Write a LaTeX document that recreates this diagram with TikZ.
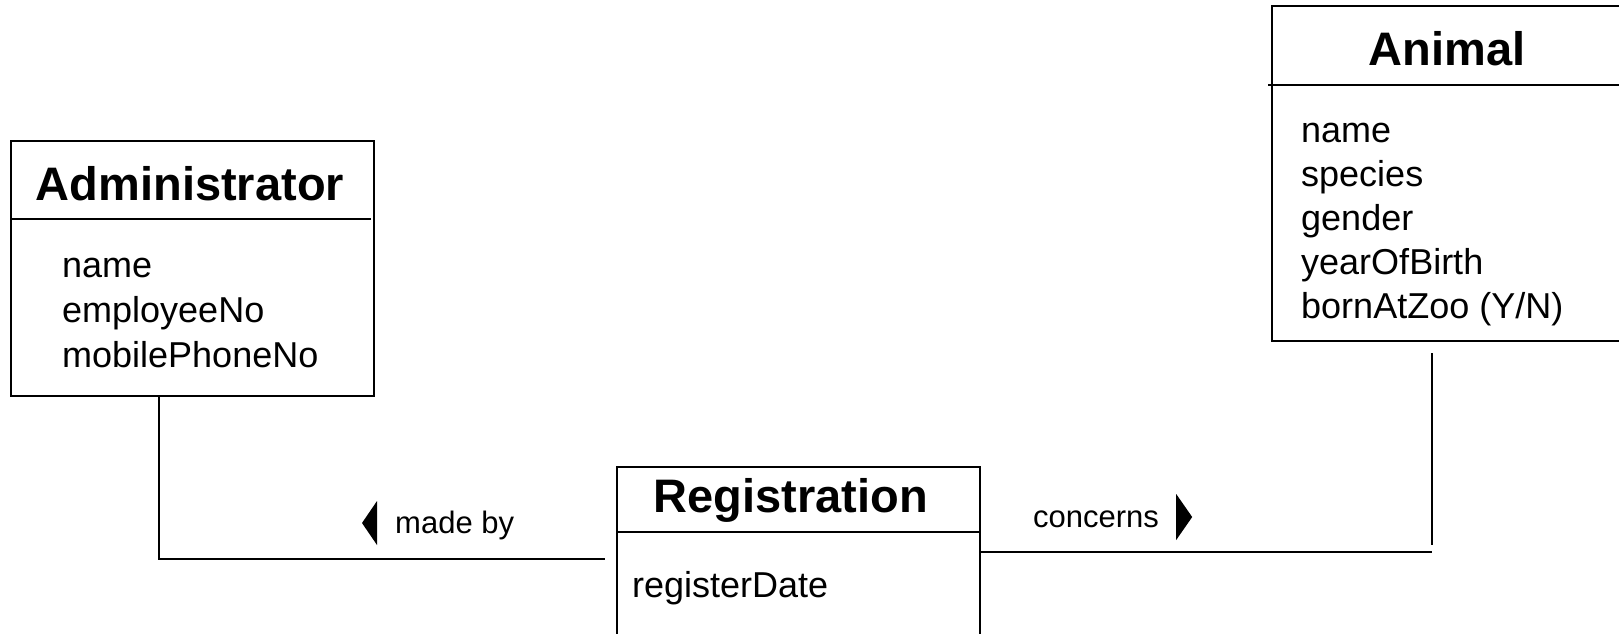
\documentclass[tikz,border=0pt]{standalone}
\usepackage{fontspec}
\setmainfont{Liberation Sans}
\usetikzlibrary{calc}

\begin{document}
\begin{tikzpicture}[x=1pt,y=-1pt,
    classbox/.style={draw,line width=2pt,inner sep=0pt,outer sep=0pt,anchor=north west},
    classname/.style={anchor=base,inner sep=0pt,font=\fontsize{47}{56}\selectfont\bfseries},
    attr/.style={anchor=base west,inner sep=0pt,font=\fontsize{36}{43}\selectfont},
    role/.style={anchor=base west,inner sep=0pt,font=\fontsize{31}{37}\selectfont},
    link/.style={line width=1.6pt}]
    \useasboundingbox (0,0) rectangle (1619,633);
    \clip (0,0) rectangle (1619,633);

    % Administrator
    \node[classbox,minimum width=363pt,minimum height=255pt] (adm) at (11,141) {};
    \node[classname] (admname) at (190,200) {Administrator};
    \draw[line width=2pt] (adm.west |- 0,219) -- (371,219);
    \foreach \t [count=\i from 0] in {name,employeeNo,mobilePhoneNo}
      \node[attr] (adm-\i) at (62,277+45*\i) {\t};

    % Registration
    \node[classbox,minimum width=363pt,minimum height=260pt] (reg) at (617,467) {};
    \node[classname] (regname) at (791,512) {Registration};
    \draw[line width=2pt] (reg.west |- 0,532) -- (reg.east |- 0,532);
    \node[attr] (reg-0) at (632,597) {registerDate};

    % Animal
    \node[classbox,minimum width=400pt,minimum height=335pt] (ani) at (1272,6) {};
    \node[classname] (aniname) at (1447,65) {Animal};
    \draw[line width=2pt] (1268,85) -- (ani.east |- 0,85);
    \foreach \t [count=\i from 0] in {name,species,gender,yearOfBirth,{bornAtZoo (Y/N)}}
      \node[attr] (ani-\i) at (1301,142+44*\i) {\t};

    % made by
    \coordinate (madecorner) at (159,559);
    \draw[link] (adm.south -| madecorner) -- (madecorner) -- ($(reg.west |- madecorner)+(-12,0)$);
    \node[role] (madeby) at (395,533) {made by};
    \fill ($(madeby.base west)+(-33,-10)$) -- ++(15,-22) -- ++(0,44) -- cycle;

    % concerns
    \coordinate (conccorner) at (1432,552);
    \draw[link] (reg.east |- conccorner) -- (conccorner);
    \draw[link] ($(ani.south -| conccorner)+(0,12)$) -- ($(conccorner)+(0,-7)$);
    \node[role] (concerns) at (1033,527) {concerns};
    \fill ($(concerns.base east)+(33,-10)$) -- ++(-16,-23) -- ++(0,46) -- cycle;
\end{tikzpicture}
\end{document}
